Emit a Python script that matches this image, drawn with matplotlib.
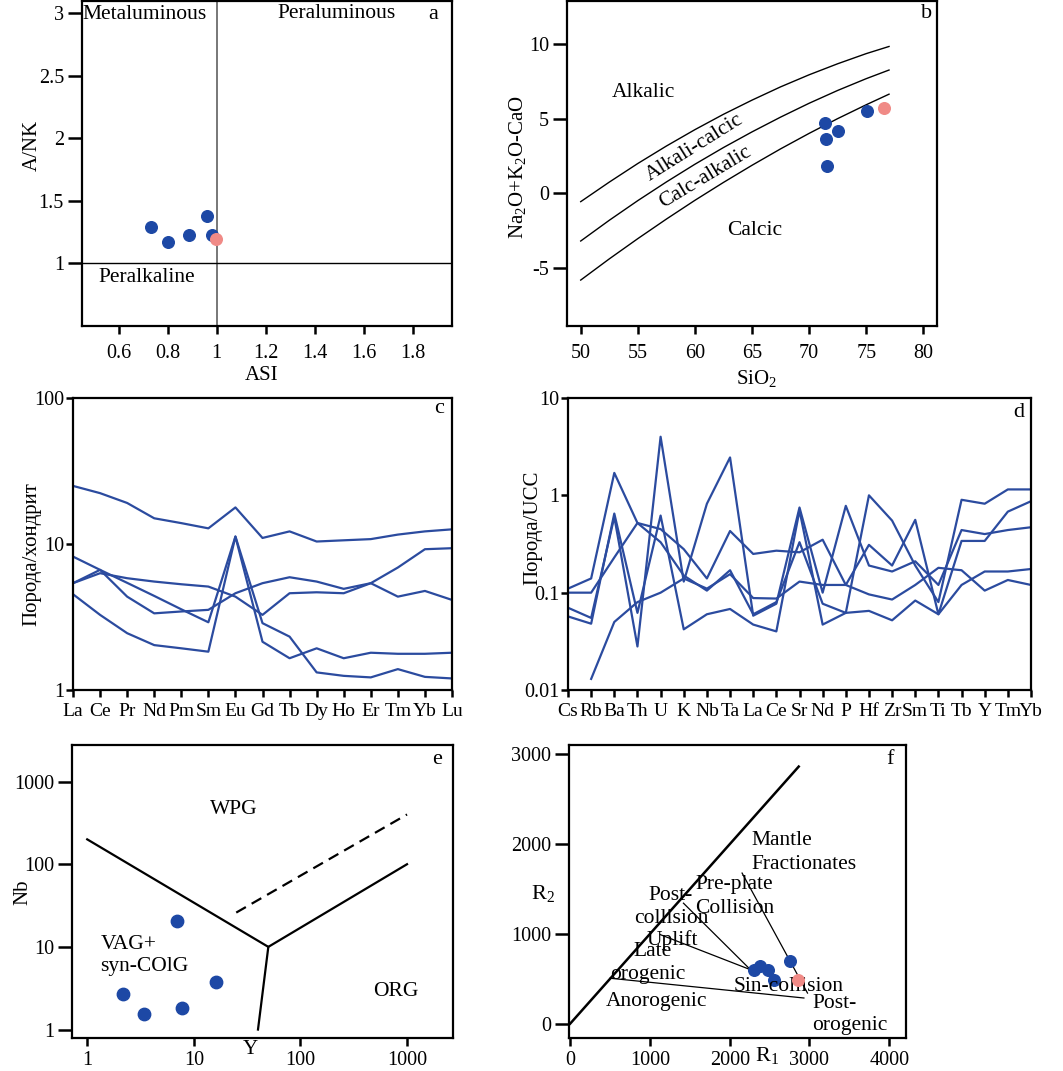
import matplotlib
matplotlib.use("Agg")
import matplotlib.pyplot as plt
import numpy as np

plt.rcParams["font.family"] = ["Liberation Serif", "DejaVu Serif"]
plt.rcParams["mathtext.default"] = "regular"
plt.rcParams["axes.unicode_minus"] = False

# ---- data -------------------------------------------------------------
# (a) A/NK vs ASI
asi_blue = [0.73, 0.80, 0.885, 0.962, 0.98]
ank_blue = [1.29, 1.17, 1.22, 1.38, 1.22]
asi_pink = [0.998]
ank_pink = [1.19]

# (b) MALI vs SiO2
mali_x = [50, 52.5, 55, 57.5, 60, 62.5, 65, 67.5, 70, 72.5, 75, 77]
mali_alk = [-0.56, 0.75, 2.00, 3.17, 4.27, 5.30, 6.25, 7.14, 7.95, 8.69, 9.37, 9.85]
mali_ac = [-3.20, -1.81, -0.49, 0.76, 1.95, 3.07, 4.12, 5.11, 6.04, 6.90, 7.69, 8.27]
mali_ca = [-5.82, -4.40, -3.04, -1.73, -0.47, 0.73, 1.88, 2.98, 4.02, 5.01, 5.94, 6.65]
sio2_blue = [71.4, 71.45, 72.5, 71.6, 75.1]
mali_blue = [4.71, 3.64, 4.15, 1.85, 5.49]
sio2_pink = [76.6]
mali_pink = [5.71]

# (c) chondrite-normalised REE
ree = ["La", "Ce", "Pr", "Nd", "Pm", "Sm", "Eu", "Gd", "Tb", "Dy", "Ho", "Er", "Tm", "Yb", "Lu"]
ree_1 = [25.0, 22.3, 19.1, 15.0, 13.9, 12.8, 17.8, 11.0, 12.2, 10.4, 10.6, 10.8, 11.6, 12.2, 12.6]
ree_2 = [8.2, 6.65, 5.42, 4.41, 3.57, 2.91, 11.25, 2.87, 2.32, 1.32, 1.25, 1.22, 1.39, 1.23, 1.20]
ree_3 = [5.39, 6.31, 5.83, 5.53, 5.30, 5.11, 4.36, 3.27, 4.60, 4.67, 4.60, 5.39, 6.90, 9.21, 9.36]
ree_4 = [5.39, 6.65, 4.36, 3.35, 3.45, 3.54, 4.60, 5.39, 5.92, 5.53, 4.93, 5.39, 4.36, 4.77, 4.14]
ree_5 = [4.53, 3.27, 2.45, 2.03, 1.93, 1.83, 11.25, 2.14, 1.65, 1.93, 1.65, 1.80, 1.77, 1.77, 1.80]

# (d) UCC-normalised spider
spd = ["Cs", "Rb", "Ba", "Th", "U", "K", "Nb", "Ta", "La", "Ce", "Sr", "Nd", "P",
       "Hf", "Zr", "Sm", "Ti", "Tb", "Y", "Tm", "Yb"]
spd_1 = [0.07, 0.055, 0.6, 0.028, 4.0, 0.13, 0.82, 2.45, 0.058, 0.077, 0.75, 0.1, 0.78,
         0.19, 0.165, 0.21, 0.12, 0.44, 0.4, 0.44, 0.47]
spd_2 = [0.1, 0.1, 0.23, 0.52, 0.45, 0.28, 0.14, 0.43, 0.25, 0.27, 0.26, 0.35, 0.12,
         0.31, 0.19, 0.56, 0.06, 0.34, 0.34, 0.68, 0.87]
spd_3 = [0.11, 0.14, 1.7, 0.52, 0.33, 0.15, 0.105, 0.17, 0.06, 0.08, 0.33, 0.077, 0.062,
         0.065, 0.052, 0.083, 0.06, 0.12, 0.165, 0.165, 0.175]
spd_4 = [0.057, 0.048, 0.65, 0.062, 0.62, 0.042, 0.06, 0.068, 0.047, 0.04, 0.7, 0.047, 0.062,
         1.0, 0.55, 0.19, 0.08, 0.9, 0.82, 1.15, 1.15]
spd_5 = [np.nan, 0.013, 0.05, 0.08, 0.1, 0.14, 0.11, 0.155, 0.088, 0.087, 0.13, 0.12, 0.12,
         0.096, 0.085, 0.12, 0.18, 0.17, 0.105, 0.135, 0.12]

# (e) Nb vs Y
y_blue = [6.95, 16.2, 2.17, 3.44, 7.74]
nb_blue = [20.7, 3.73, 2.70, 1.55, 1.83]
e_line1_x, e_line1_y = [1, 50, 1000], [200, 10, 100]
e_line2_x, e_line2_y = [50, 40], [10, 1]
e_dash_x, e_dash_y = [25, 1000], [26, 400]

# (f) R1-R2
r1_blue = [2300, 2384, 2476, 2551, 2752]
r2_blue = [600, 644, 592, 481, 700]
r1_pink = [2852]
r2_pink = [481]
f_diag = ([0, 2865], [0, 2860])
f_segments = [
    ([1420, 2260], [1340, 600]),
    ([1130, 2260], [990, 600]),
    ([500, 2930], [505, 285]),
    ([2155, 2975], [1675, 340]),
]

BLUE = "#1d48a5"
PINK = "#f08a86"
LINE = "#2b4b9f"

W, H = 1063, 1071
fig = plt.figure(figsize=(W / 100, H / 100), dpi=100)


def box(l, t, r, b, ylen=10, xlen=6, xpad=7, ypad=3):
    ax = fig.add_axes([l / W, 1 - b / H, (r - l) / W, (b - t) / H])
    for s in ax.spines.values():
        s.set_linewidth(1.6)
    ax.tick_params(direction="out", width=1.8, labelsize=14.5)
    ax.tick_params(axis="y", length=ylen, pad=ypad)
    ax.tick_params(axis="x", length=xlen, pad=xpad)
    return ax


def ftext(x, y, s, **kw):
    kw.setdefault("fontsize", 15)
    fig.text(x / W, 1 - y / H, s, ha="center", va="center", **kw)


def letter(ax, x, y, s):
    ax.text(x, y, s, transform=ax.transAxes, ha="center", va="center", fontsize=16)


# ---- a ----
ax = box(82, 1, 452, 326)
ax.set_xlim(0.45, 1.96)
ax.set_ylim(0.494, 3.1)
ax.axvline(1, color="#777777", lw=1.4)
ax.axhline(1, color="black", lw=1.0)
ax.scatter(asi_blue, ank_blue, s=70, color=BLUE, zorder=3)
ax.scatter(asi_pink, ank_pink, s=70, color=PINK, zorder=4)
ax.set_xticks([0.6, 0.8, 1.0, 1.2, 1.4, 1.6, 1.8], ["0.6", "0.8", "1", "1.2", "1.4", "1.6", "1.8"])
ax.set_yticks([1, 1.5, 2, 2.5, 3], ["1", "1.5", "2", "2.5", "3"])
ax.text(0.453, 2.99, "Metaluminous", fontsize=15.5, va="center")
ax.text(1.247, 3.0, "Peraluminous", fontsize=15.5, va="center")
ax.text(0.519, 0.88, "Peralkaline", fontsize=15.5, va="center")
letter(ax, 0.949, 0.957, "a")
ftext(32, 145, "A/NK", rotation=90)
ftext(262, 376, "ASI")

# ---- b ----
ax = box(567, 1, 937, 326)
ax.set_xlim(48.8, 81.2)
ax.set_ylim(-8.9, 12.9)
for yy in (mali_alk, mali_ac, mali_ca):
    ax.plot(mali_x, yy, color="black", lw=1.0)
ax.scatter(sio2_blue, mali_blue, s=70, color=BLUE, zorder=3)
ax.scatter(sio2_pink, mali_pink, s=70, color=PINK, zorder=4)
ax.set_xticks([50, 55, 60, 65, 70, 75, 80])
ax.set_yticks([-5, 0, 5, 10])
ax.text(52.7, 6.76, "Alkalic", fontsize=15.5, va="center")
ax.text(62.8, -2.5, "Calcic", fontsize=15.5, va="center")
ax.text(60.0, 3.08, "Alkali-calcic", fontsize=15.5, rotation=32, ha="center", va="center",
        rotation_mode="anchor")
ax.text(60.9, 1.07, "Calc-alkalic", fontsize=15.5, rotation=31, ha="center", va="center",
        rotation_mode="anchor")
letter(ax, 0.971, 0.963, "b")
ftext(518, 167, "Na$_2$O+K$_2$O-CaO", rotation=90)
ftext(757, 378, "SiO$_2$")

# ---- c ----
ax = box(73, 398, 452, 690, ylen=5, xlen=5, xpad=4, ypad=1)
for yy in (ree_1, ree_2, ree_3, ree_4, ree_5):
    ax.plot(range(len(ree)), yy, color=LINE, lw=1.6)
ax.set_yscale("log")
ax.set_ylim(1, 100)
ax.set_xlim(0, len(ree) - 1)
ax.set_xticks(range(len(ree)), ree)
ax.set_yticks([1, 10, 100], ["1", "10", "100"])
ax.yaxis.set_minor_locator(matplotlib.ticker.NullLocator())
ax.tick_params(axis="x", labelsize=14)
letter(ax, 0.967, 0.965, "c")
ftext(32, 554, "Порода/хондрит", rotation=90)

# ---- d ----
ax = box(568, 398, 1031, 690, ylen=5, xlen=5, xpad=4, ypad=1)
for yy in (spd_1, spd_2, spd_3, spd_4, spd_5):
    ax.plot(range(len(spd)), yy, color=LINE, lw=1.6)
ax.set_yscale("log")
ax.set_ylim(0.01, 10)
ax.set_xlim(0, len(spd) - 1)
ax.set_xticks(range(len(spd)), spd)
ax.set_yticks([0.01, 0.1, 1, 10], ["0.01", "0.1", "1", "10"])
ax.yaxis.set_minor_locator(matplotlib.ticker.NullLocator())
ax.tick_params(axis="x", labelsize=14)
letter(ax, 0.973, 0.952, "d")
ftext(533, 528, "Порода/UCC", rotation=90)

# ---- e ----
ax = box(72, 745, 453, 1038, xpad=3.5)
ax.set_xscale("log")
ax.set_yscale("log")
ax.set_xlim(0.72, 2700)
ax.set_ylim(0.79, 2770)
ax.plot(e_line1_x, e_line1_y, color="black", lw=1.6)
ax.plot(e_line2_x, e_line2_y, color="black", lw=1.6)
ax.plot(e_dash_x, e_dash_y, color="black", lw=1.6, ls=(0, (5, 3)))
ax.scatter(y_blue, nb_blue, s=80, color=BLUE, zorder=3)
ax.set_xticks([1, 10, 100, 1000], ["1", "10", "100", "1000"])
ax.set_yticks([1, 10, 100, 1000], ["1", "10", "100", "1000"])
ax.xaxis.set_minor_locator(matplotlib.ticker.NullLocator())
ax.yaxis.set_minor_locator(matplotlib.ticker.NullLocator())
ax.text(23.5, 465, "WPG", fontsize=15.5, ha="center", va="center")
ax.text(1.33, 7.83, "VAG+\nsyn-COlG", fontsize=15.5, ha="left", va="center")
ax.text(784, 2.9, "ORG", fontsize=15.5, ha="center", va="center")
letter(ax, 0.957, 0.949, "e")
ftext(23, 892, "Nb", rotation=90)
ftext(250, 1050, "Y")

# ---- f ----
ax = box(569, 745, 906, 1038, xpad=3.5)
ax.set_xlim(-15, 4210)
ax.set_ylim(-160, 3100)
ax.plot(*f_diag, color="black", lw=1.8)
for sx, sy in f_segments:
    ax.plot(sx, sy, color="black", lw=0.9)
ax.scatter(r1_blue, r2_blue, s=70, color=BLUE, zorder=3)
ax.scatter(r1_pink, r2_pink, s=70, color=PINK, zorder=4)
ax.set_xticks([0, 1000, 2000, 3000, 4000])
ax.set_yticks([0, 1000, 2000, 3000])
f_labels = [
    (2271, 2033, "Mantle"), (2271, 1774, "Fractionates"),
    (1568, 1544, "Pre-plate"), (1568, 1285, "Collision"),
    (983, 1422, "Post-"), (803, 1175, "collision"), (954, 935, "Uplift"),
    (790, 800, "Late"), (502, 550, "orogenic"), (452, 248, "Anorogenic"),
    (2049, 415, "Sin-collision"), (3033, 222, "Post-"), (3033, -22, "orogenic"),
]
for lx, ly, s in f_labels:
    ax.text(lx, ly, s, fontsize=15.5, ha="left", va="center")
letter(ax, 0.953, 0.951, "f")
ftext(543, 893, "R$_2$", fontsize=16)
ftext(767, 1055, "R$_1$", fontsize=16)

fig.savefig("out.png", dpi=100)
